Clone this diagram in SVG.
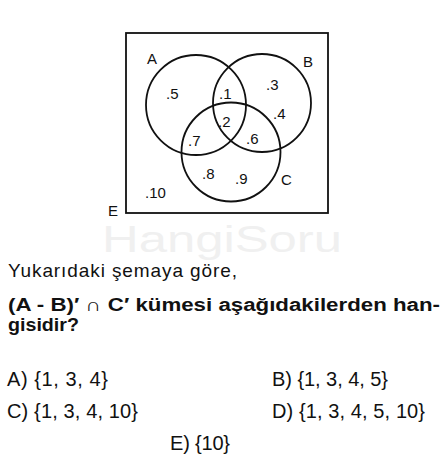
<svg xmlns="http://www.w3.org/2000/svg" width="442" height="468" viewBox="0 0 442 468">
<style>
.ln{fill:none;stroke:#111;stroke-width:1.8}
.lbl{font-family:"Liberation Sans",Arial,sans-serif;font-size:15px;fill:#111}
.num{font-family:"Liberation Sans",Arial,sans-serif;font-size:15px;fill:#111}
.q{font-family:"Liberation Sans",Arial,sans-serif;font-size:19px;fill:#111}
.qb{font-family:"Liberation Sans",Arial,sans-serif;font-size:18px;font-weight:bold;fill:#111}
.opt{font-family:"Liberation Sans",Arial,sans-serif;font-size:20px;fill:#111}
.wm{font-family:"Liberation Sans",Arial,sans-serif;font-size:36px;fill:#f0f0f0}
</style>
<rect width="442" height="468" fill="#fff"/>
<text class="wm" x="102" y="252" textLength="240" lengthAdjust="spacingAndGlyphs">HangiSoru</text>
<g id="universe">
<rect class="ln" x="126" y="33" width="202" height="180"/>
<text class="lbl" x="108" y="216">E</text>
<text class="num" x="145" y="198">.10</text>
</g>
<g id="setA">
<circle class="ln" cx="196" cy="105" r="50"/>
<text class="lbl" x="147" y="64">A</text>
</g>
<g id="setB">
<circle class="ln" cx="262" cy="103" r="49"/>
<text class="lbl" x="303" y="67">B</text>
</g>
<g id="setC">
<circle class="ln" cx="231" cy="152" r="49.5"/>
<text class="lbl" x="281" y="185">C</text>
</g>
<g id="elements">
<text class="num" x="166" y="99">.5</text>
<text class="num" x="219" y="99">.1</text>
<text class="num" x="266" y="90">.3</text>
<text class="num" x="273" y="119">.4</text>
<text class="num" x="218" y="127">.2</text>
<text class="num" x="188" y="146">.7</text>
<text class="num" x="246" y="144">.6</text>
<text class="num" x="202" y="179">.8</text>
<text class="num" x="235" y="184">.9</text>
</g>
<g id="question">
<text class="q" x="8" y="277" textLength="229" lengthAdjust="spacing">Yukarıdaki şemaya göre,</text>
<text class="qb" x="8" y="310.5" textLength="432" lengthAdjust="spacingAndGlyphs">(A - B)′ ∩ C′ kümesi aşağıdakilerden han-</text>
<text class="qb" x="8" y="331" textLength="71" lengthAdjust="spacingAndGlyphs">gisidir?</text>
</g>
<g id="options">
<text class="opt" x="7" y="386" textLength="101" lengthAdjust="spacing">A) {1, 3, 4}</text>
<text class="opt" x="272" y="386" textLength="116" lengthAdjust="spacing">B) {1, 3, 4, 5}</text>
<text class="opt" x="7" y="418" textLength="131" lengthAdjust="spacing">C) {1, 3, 4, 10}</text>
<text class="opt" x="272" y="418" textLength="153" lengthAdjust="spacing">D) {1, 3, 4, 5, 10}</text>
<text class="opt" x="170" y="450" textLength="60" lengthAdjust="spacing">E) {10}</text>
</g>
</svg>
